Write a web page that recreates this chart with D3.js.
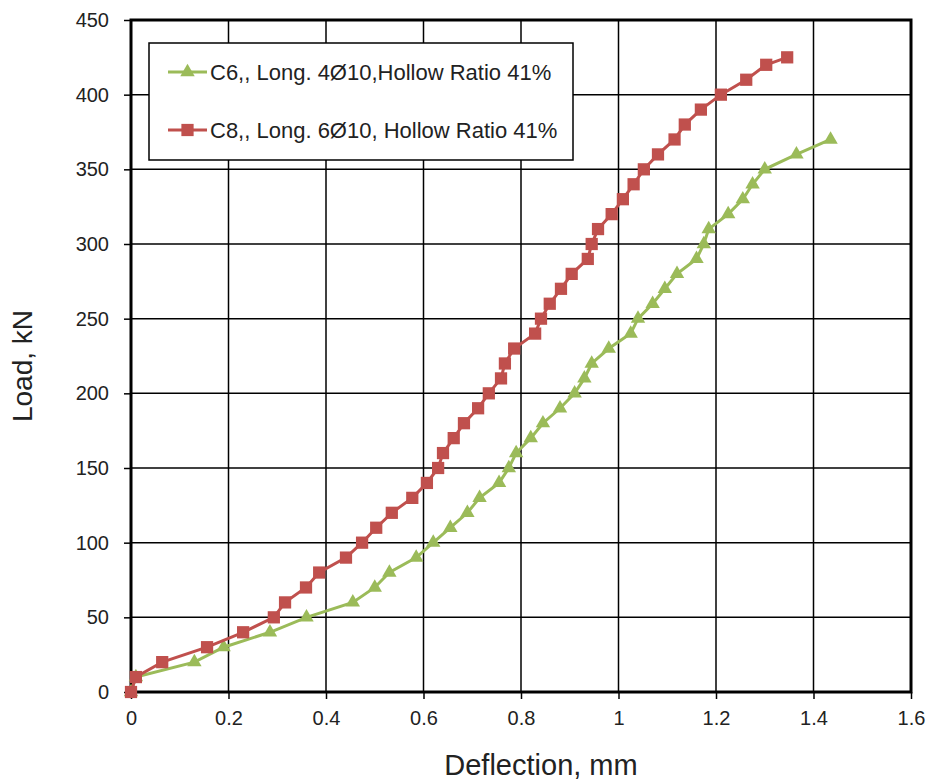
<!DOCTYPE html>
<html><head><meta charset="utf-8">
<script src="https://cdn.jsdelivr.net/npm/d3@7"></script>
<style>body{margin:0;background:#fff;} svg{display:block;font-family:"Liberation Sans",Arial,sans-serif;}</style>
</head><body>
<svg id="chart" width="933" height="780"></svg>
<script>
const xTicks = [0, 0.2, 0.4, 0.6, 0.8, 1, 1.2, 1.4, 1.6];
const yTicks = [0, 50, 100, 150, 200, 250, 300, 350, 400, 450];

const c6Deflection = [0, 0.01, 0.13, 0.19, 0.285, 0.36, 0.455, 0.5, 0.53, 0.585, 0.62, 0.655, 0.69, 0.715, 0.755, 0.775, 0.79, 0.82, 0.845, 0.88, 0.91, 0.93, 0.945, 0.98, 1.025, 1.04, 1.07, 1.095, 1.12, 1.16, 1.175, 1.185, 1.225, 1.255, 1.275, 1.3, 1.365, 1.435];
const c6Load = [0, 10, 20, 30, 40, 50, 60, 70, 80, 90, 100, 110, 120, 130, 140, 150, 160, 170, 180, 190, 200, 210, 220, 230, 240, 250, 260, 270, 280, 290, 300, 310, 320, 330, 340, 350, 360, 370];

const c8Deflection = [0, 0.01, 0.064, 0.156, 0.23, 0.293, 0.316, 0.359, 0.386, 0.441, 0.474, 0.503, 0.535, 0.577, 0.607, 0.63, 0.64, 0.662, 0.683, 0.712, 0.734, 0.759, 0.767, 0.786, 0.829, 0.841, 0.859, 0.882, 0.904, 0.937, 0.945, 0.958, 0.986, 1.009, 1.031, 1.052, 1.081, 1.115, 1.136, 1.169, 1.21, 1.262, 1.303, 1.346];
const c8Load = [0, 10, 20, 30, 40, 50, 60, 70, 80, 90, 100, 110, 120, 130, 140, 150, 160, 170, 180, 190, 200, 210, 220, 230, 240, 250, 260, 270, 280, 290, 300, 310, 320, 330, 340, 350, 360, 370, 380, 390, 400, 410, 420, 425];

const seriesNames = ["C6,, Long. 4Ø10,Hollow Ratio 41%", "C8,, Long. 6Ø10, Hollow Ratio 41%"];
const seriesColors = ["#9BBB59", "#C0504D"];

const series = [
  {name: seriesNames[0], color: seriesColors[0], shape: d3.symbolTriangle, size: 90, data: c6Deflection.map((d,i)=>[d, c6Load[i]])},
  {name: seriesNames[1], color: seriesColors[1], shape: d3.symbolSquare, size: 150, data: c8Deflection.map((d,i)=>[d, c8Load[i]])}
];

const svg = d3.select("#chart");
const L = 131, R = 911, T = 20, B = 692;
const x = d3.scaleLinear().domain([0, 1.6]).range([L, R]);
const y = d3.scaleLinear().domain([0, 450]).range([B, T]);

// gridlines
svg.append("g").selectAll("line").data(xTicks.slice(1, -1)).join("line")
  .attr("x1", d=>x(d)).attr("x2", d=>x(d)).attr("y1", T).attr("y2", B)
  .attr("stroke", "#000").attr("stroke-width", 1.5);
svg.append("g").selectAll("line").data(yTicks.slice(1, -1)).join("line")
  .attr("x1", L).attr("x2", R).attr("y1", d=>y(d)).attr("y2", d=>y(d))
  .attr("stroke", "#000").attr("stroke-width", 1.5);

// axes
const xAxis = svg.append("g").attr("transform", `translate(0,${B})`)
  .call(d3.axisBottom(x).tickValues(xTicks).tickFormat(d3.format("")).tickSize(7).tickPadding(12));
const yAxis = svg.append("g").attr("transform", `translate(${L},0)`)
  .call(d3.axisLeft(y).tickValues(yTicks).tickSize(7).tickPadding(15));
[xAxis, yAxis].forEach(a => {
  a.select(".domain").remove();
  a.selectAll(".tick line").attr("stroke", "#000").attr("stroke-width", 1.5);
  a.selectAll("text").attr("font-size", 20).attr("fill", "#222").attr("font-family", "Liberation Sans, Arial, sans-serif");
});

// frame
svg.append("rect").attr("x", L).attr("y", T).attr("width", R - L).attr("height", B - T)
  .attr("fill", "none").attr("stroke", "#000").attr("stroke-width", 3);

// series
const line = d3.line().x(d=>x(d[0])).y(d=>y(d[1]));
series.forEach(s => {
  const g = svg.append("g");
  g.append("path").datum(s.data).attr("d", line).attr("fill", "none")
    .attr("stroke", s.color).attr("stroke-width", 3);
  g.selectAll("path.m").data(s.data).join("path").attr("class", "m")
    .attr("transform", d=>`translate(${x(d[0])},${y(d[1])})`)
    .attr("d", d3.symbol().type(s.shape).size(s.size))
    .attr("fill", s.color);
});

// legend
const lg = svg.append("g");
lg.append("rect").attr("x", 149).attr("y", 43).attr("width", 424).attr("height", 117)
  .attr("fill", "#fff").attr("stroke", "#000").attr("stroke-width", 1.5);
series.forEach((s, i) => {
  const cy = 72 + i * 58;
  lg.append("line").attr("x1", 168).attr("x2", 207).attr("y1", cy).attr("y2", cy)
    .attr("stroke", s.color).attr("stroke-width", 3);
  lg.append("path").attr("transform", `translate(187.5,${cy})`)
    .attr("d", d3.symbol().type(s.shape).size(s.size)).attr("fill", s.color);
  lg.append("text").attr("x", 210).attr("y", cy).attr("dy", "0.35em")
    .attr("font-size", 22).attr("fill", "#222").text(s.name);
});

// axis titles
svg.append("text").attr("x", 541).attr("y", 775).attr("text-anchor", "middle")
  .attr("font-size", 29).attr("fill", "#222").text("Deflection, mm");
svg.append("text").attr("transform", "translate(32,366) rotate(-90)").attr("text-anchor", "middle")
  .attr("font-size", 28).attr("fill", "#222").text("Load, kN");
</script>
</body></html>
